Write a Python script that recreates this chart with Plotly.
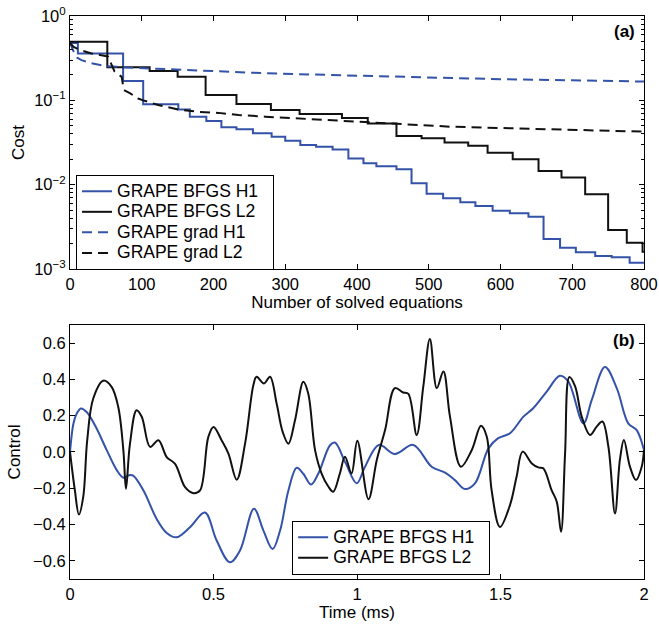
import plotly.graph_objects as go

# ---------------- Panel (a) data ----------------
bfgs_h1_x = [0, 11, 74, 102, 151, 167, 190, 211, 232, 255, 281, 300, 321, 343, 366, 388, 409, 427, 455,
             476, 497, 520, 544, 565, 589, 613, 639, 660, 683, 705, 732, 755, 780, 800]
bfgs_h1_y = [0.48, 0.36, 0.17, 0.0897, 0.078, 0.064, 0.0569, 0.0479, 0.0453, 0.0406, 0.037, 0.0332, 0.0295,
             0.0282, 0.0262, 0.0205, 0.0179, 0.0165, 0.0152, 0.0104, 0.0078, 0.0069, 0.0062, 0.00558, 0.0049,
             0.00457, 0.00417, 0.00227, 0.00179, 0.00158, 0.00143, 0.00138, 0.00119, 0.00119]

bfgs_l2_x = [0, 52, 111, 150, 189, 232, 280, 320, 379, 415, 455, 490, 522, 555, 582, 617, 653, 685, 718,
             750, 776, 798, 800]
bfgs_l2_y = [0.496, 0.246, 0.223, 0.19, 0.116, 0.0905, 0.077, 0.0688, 0.0617, 0.0533, 0.0377, 0.0354, 0.0316,
             0.029, 0.0239, 0.020, 0.0145, 0.0122, 0.00768, 0.0029, 0.00205, 0.0016, 0.0016]

grad_h1_x = [0, 5, 10, 16, 30, 50, 80, 130, 200, 270, 360, 450, 520, 600, 700, 800]
grad_h1_y = [0.48, 0.38, 0.32, 0.30, 0.275, 0.255, 0.245, 0.235, 0.225, 0.21, 0.2, 0.192, 0.183, 0.178,
             0.173, 0.167]

grad_l2_x = [0, 5, 14, 30, 53, 58, 62, 72, 75, 84, 95, 102, 123, 151, 179, 207, 235, 272, 330, 390, 460,
             530, 600, 700, 800]
grad_l2_y = [0.48, 0.43, 0.395, 0.36, 0.33, 0.27, 0.22, 0.19, 0.133, 0.121, 0.105, 0.10, 0.088, 0.078, 0.073,
             0.071, 0.067, 0.064, 0.06, 0.0558, 0.052, 0.0487, 0.047, 0.045, 0.0425]

names_a = ["GRAPE BFGS H1", "GRAPE BFGS L2", "GRAPE grad H1", "GRAPE grad L2"]

cost_tickvals = [0.001, 0.01, 0.1, 1]
cost_ticktext = ["10<sup>−3</sup>", "10<sup>−2</sup>", "10<sup>−1</sup>", "10<sup>0</sup>"]
cost_minor = [m * 10 ** e for e in (-3, -2, -1) for m in range(2, 10)]
eq_ticks = [0, 100, 200, 300, 400, 500, 600, 700, 800]

# ---------------- Panel (b) data ----------------
h1_t = [0, 0.012, 0.023, 0.038, 0.058, 0.087, 0.128, 0.163, 0.186, 0.205, 0.22, 0.256, 0.302, 0.337, 0.372,
        0.418, 0.47, 0.511, 0.557, 0.592, 0.641, 0.674, 0.706, 0.732, 0.761, 0.79, 0.813, 0.84, 0.865, 0.906,
        0.923, 0.96, 0.999, 1.028, 1.076, 1.132, 1.196, 1.26, 1.307, 1.341, 1.376, 1.411, 1.458, 1.492, 1.533,
        1.58, 1.614, 1.661, 1.707, 1.736, 1.789, 1.818, 1.864, 1.905, 1.945, 1.974, 2.0]
h1_v = [0, 0.157, 0.21, 0.24, 0.22, 0.147, 0.01, -0.10, -0.142, -0.128, -0.13, -0.212, -0.369, -0.446, -0.47,
        -0.415, -0.334, -0.488, -0.608, -0.544, -0.313, -0.433, -0.535, -0.433, -0.212, -0.087, -0.12, -0.179,
        -0.12, 0.037, 0.052, -0.06, -0.173, -0.081, 0.039, -0.011, 0.039, -0.081, -0.114, -0.155, -0.204,
        -0.173, 0.02, 0.076, 0.103, 0.195, 0.241, 0.333, 0.42, 0.389, 0.158, 0.287, 0.468, 0.352, 0.158,
        0.122, 0.011]

l2_t = [0, 0.017, 0.031, 0.046, 0.06, 0.081, 0.116, 0.145, 0.168, 0.186, 0.195, 0.209, 0.232, 0.25, 0.279,
        0.308, 0.337, 0.366, 0.401, 0.43, 0.453, 0.482, 0.5, 0.528, 0.552, 0.581, 0.61, 0.639, 0.65, 0.676,
        0.697, 0.72, 0.741, 0.761, 0.784, 0.813, 0.83, 0.854, 0.877, 0.9, 0.917, 0.94, 0.958, 0.981, 1.001,
        1.04, 1.069, 1.098, 1.132, 1.161, 1.179, 1.208, 1.231, 1.254, 1.278, 1.301, 1.324, 1.362, 1.4, 1.432,
        1.452, 1.469, 1.498, 1.533, 1.556, 1.577, 1.609, 1.632, 1.649, 1.678, 1.696, 1.711, 1.725, 1.74, 1.76,
        1.783, 1.812, 1.835, 1.855, 1.876, 1.899, 1.916, 1.93, 1.951, 1.972, 1.992, 2.0]
l2_v = [0, -0.212, -0.345, -0.249, 0.065, 0.295, 0.393, 0.359, 0.249, 0.009, -0.203, 0.046, 0.23, 0.194,
        0.028, 0.065, -0.028, -0.065, -0.194, -0.227, -0.212, 0.083, 0.138, 0.065, -0.009, -0.153, 0.046,
        0.369, 0.415, 0.378, 0.415, 0.267, 0.111, 0.046, 0.175, 0.387, 0.323, 0.009, -0.12, -0.19, -0.219,
        -0.12, -0.026, -0.118, 0.062, -0.26, -0.044, 0.122, 0.352, 0.328, 0.32, 0.094, 0.361, 0.623, 0.352,
        0.444, 0.195, -0.081, 0.011, 0.144, 0.085, -0.21, -0.413, -0.293, -0.136, 0.002, -0.063, -0.085,
        -0.09, -0.21, -0.274, -0.44, -0.007, 0.413, 0.361, 0.195, 0.094, 0.14, 0.168, 0.029, -0.339, -0.044,
        0.066, -0.081, -0.155, -0.081, 0.011]

names_b = ["GRAPE BFGS H1", "GRAPE BFGS L2"]

time_ticks = [0, 0.5, 1, 1.5, 2]
ctrl_ticks = [-0.6, -0.4, -0.2, 0, 0.2, 0.4, 0.6]

BLUE = "#3352a8"
BLACK = "#111111"
FONT = "Liberation Sans, Arial, sans-serif"


def lg(name):
    # legend text drawn larger than the (compact) legend row height, with a little right padding
    return '<span style="font-size:17.5px">' + name + "&nbsp;&nbsp;</span>"


fig = go.Figure()

# Panel (a)
fig.add_trace(go.Scatter(x=bfgs_h1_x, y=bfgs_h1_y, mode="lines", line=dict(color=BLUE, width=2, shape="hv"),
                         name=lg(names_a[0]), xaxis="x", yaxis="y", legend="legend"))
fig.add_trace(go.Scatter(x=bfgs_l2_x, y=bfgs_l2_y, mode="lines", line=dict(color=BLACK, width=2, shape="hv"),
                         name=lg(names_a[1]), xaxis="x", yaxis="y", legend="legend"))
fig.add_trace(go.Scatter(x=grad_h1_x, y=grad_h1_y, mode="lines",
                         line=dict(color=BLUE, width=2, dash="10px,6px"),
                         name=lg(names_a[2]), xaxis="x", yaxis="y", legend="legend"))
fig.add_trace(go.Scatter(x=grad_l2_x, y=grad_l2_y, mode="lines",
                         line=dict(color=BLACK, width=2, dash="10px,6px"),
                         name=lg(names_a[3]), xaxis="x", yaxis="y", legend="legend"))

# Panel (b)
fig.add_trace(go.Scatter(x=h1_t, y=h1_v, mode="lines", line=dict(color=BLUE, width=2, shape="spline", smoothing=1.0),
                         name=lg(names_b[0]), xaxis="x2", yaxis="y2", legend="legend2"))
fig.add_trace(go.Scatter(x=l2_t, y=l2_v, mode="lines", line=dict(color=BLACK, width=2, shape="spline", smoothing=1.0),
                         name=lg(names_b[1]), xaxis="x2", yaxis="y2", legend="legend2"))

axis_common = dict(showline=True, linecolor="black", linewidth=1, mirror="allticks", ticks="inside",
                   ticklen=5, tickcolor="black", showgrid=False, zeroline=False, automargin=False,
                   ticklabeloverflow="allow",
                   tickfont=dict(size=16.5, color="black", family=FONT))

TOP_DOMAIN = [0.5506, 1.0]
BOT_DOMAIN = [0.0, 0.4512]

fig.update_layout(
    width=659, height=625,
    margin=dict(l=70, r=15, t=16, b=46),
    paper_bgcolor="white", plot_bgcolor="white",
    font=dict(family=FONT, size=17, color="black"),
    showlegend=True,
    xaxis=dict(domain=[0, 1], anchor="y", range=[0, 800], tickvals=eq_ticks, **axis_common,
               title=dict(text="Number of solved equations", font=dict(size=17), standoff=0)),
    yaxis=dict(domain=TOP_DOMAIN, anchor="x", type="log", range=[-3, 0],
               tickvals=cost_tickvals, ticktext=cost_ticktext, **axis_common,
               minor=dict(tickvals=cost_minor, ticks="inside", ticklen=3, tickcolor="black", showgrid=False),
               title=dict(text="Cost", font=dict(size=17), standoff=5)),
    xaxis2=dict(domain=[0, 1], anchor="y2", range=[0, 2], tickvals=time_ticks, **axis_common,
                title=dict(text="Time (ms)", font=dict(size=17), standoff=0)),
    yaxis2=dict(domain=BOT_DOMAIN, anchor="x2", range=[-0.7, 0.7], tickvals=ctrl_ticks,
                tickformat=".1f", **axis_common,
                title=dict(text="Control", font=dict(size=17), standoff=8)),
    legend=dict(x=0.0105, y=0.7176, xanchor="left", yanchor="top", bgcolor="white",
                bordercolor="black", borderwidth=1, font=dict(size=13.5, family=FONT),
                tracegroupgap=0, itemwidth=30),
    legend2=dict(x=0.387, y=0.103, xanchor="left", yanchor="top", bgcolor="white",
                 bordercolor="black", borderwidth=1, font=dict(size=13.5, family=FONT),
                 tracegroupgap=0, itemwidth=30),
    annotations=[
        dict(text="<b>(a)</b>", x=0.987, y=0.985, xref="x domain", yref="y domain", xanchor="right",
             yanchor="top", showarrow=False, font=dict(size=17, family=FONT)),
        dict(text="<b>(b)</b>", x=0.987, y=0.985, xref="x2 domain", yref="y2 domain", xanchor="right",
             yanchor="top", showarrow=False, font=dict(size=17, family=FONT)),
    ],
)

fig.write_html("out.html", config={"displayModeBar": False},
               post_script="document.body.style.margin='0';document.body.style.padding='0';")
